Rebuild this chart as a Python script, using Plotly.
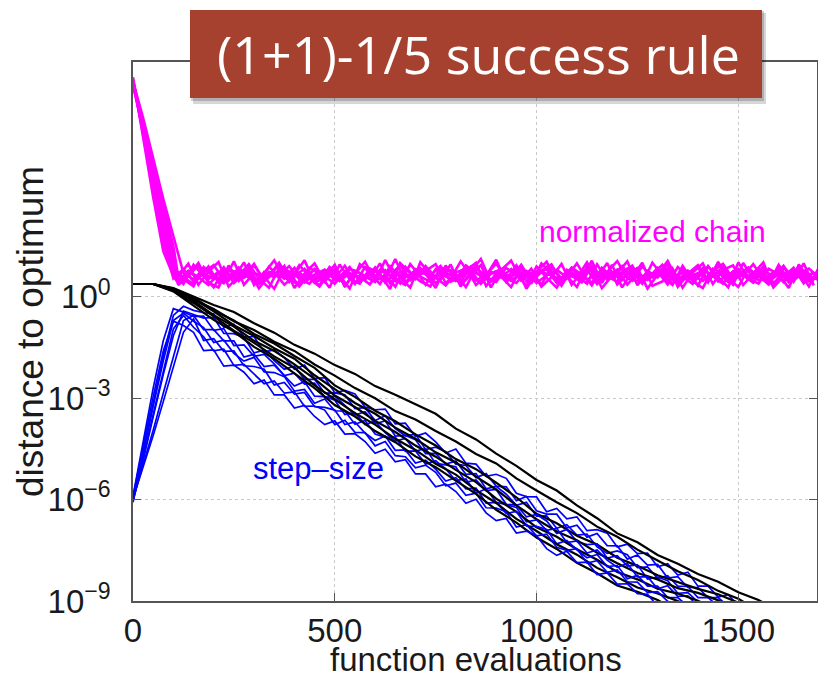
import plotly.graph_objects as go

# ---------------- data (log10 values) ----------------
black_evals = list(range(0, 1601, 50))
blue_evals = list(range(0, 1551, 25))
magenta_evals_a = list(range(0, 1701, 25))
magenta_evals_b = [0, 25, 50, 75, 100] + list(range(112, 1701, 25))

# distance to optimum (black), log10
black_runs = [
    [0.38, 0.38, 0.26, 0.02, -0.24, -0.45, -0.78, -1.06, -1.42, -1.68, -2.02, -2.28, -2.64, -2.90, -3.17, -3.46,
     -3.90, -4.22, -4.64, -5.00, -5.42, -5.73, -6.17, -6.55, -7.00, -7.26, -7.64, -7.90, -8.20, -8.43, -8.74, -8.97, -9.30],
    [0.38, 0.38, 0.24, -0.08, -0.36, -0.72, -0.98, -1.33, -1.60, -2.00, -2.33, -2.70, -3.00, -3.38, -3.63, -3.97,
     -4.28, -4.65, -4.93, -5.37, -5.73, -6.08, -6.40, -6.80, -7.10, -7.48, -7.80, -8.12, -8.38, -8.70, -8.93, -9.30],
    [0.38, 0.38, 0.24, -0.02, -0.40, -0.70, -1.10, -1.38, -1.75, -2.10, -2.62, -2.96, -3.37, -3.68, -4.07, -4.40,
     -4.80, -5.10, -5.50, -5.93, -6.42, -6.70, -7.07, -7.33, -7.72, -7.96, -8.24, -8.43, -8.64, -8.80, -9.05, -9.40],
    [0.38, 0.38, 0.22, -0.06, -0.43, -0.84, -1.16, -1.52, -1.83, -2.32, -2.73, -3.14, -3.46, -3.87, -4.20, -4.60,
     -4.90, -5.32, -5.70, -6.17, -6.58, -6.94, -7.20, -7.57, -7.88, -8.17, -8.36, -8.62, -8.76, -8.98, -9.30],
    [0.38, 0.38, 0.20, -0.12, -0.54, -0.88, -1.30, -1.60, -2.00, -2.43, -2.92, -3.26, -3.67, -4.00, -4.40, -4.73,
     -5.12, -5.48, -5.97, -6.36, -6.82, -7.10, -7.47, -7.78, -8.14, -8.36, -8.64, -8.78, -8.99, -9.30],
    [0.38, 0.38, 0.18, -0.18, -0.58, -1.00, -1.36, -1.76, -2.10, -2.62, -3.03, -3.44, -3.78, -4.20, -4.53, -4.94,
     -5.26, -5.72, -6.10, -6.57, -6.93, -7.32, -7.63, -8.02, -8.30, -8.60, -8.78, -9.00, -9.30],
    [0.38, 0.38, 0.16, -0.25, -0.68, -1.03, -1.48, -1.83, -2.27, -2.70, -3.20, -3.54, -3.97, -4.30, -4.72, -5.04,
     -5.44, -5.83, -6.30, -6.68, -7.12, -7.46, -7.87, -8.18, -8.54, -8.73, -8.97, -9.30],
]

# step-size (blue), log10
blue_runs = [
    [-5.95, -4.55, -3.10, -1.75, -0.55, -0.28, -0.40, -0.47, -0.50, -0.90,
     -0.81, -1.18, -1.18, -1.63, -1.57, -1.80, -2.14, -2.02, -2.42, -2.39,
     -2.84, -2.77, -2.87, -3.26, -3.34, -3.32, -3.76, -3.74, -4.13, -4.03,
     -4.29, -4.62, -4.50, -4.92, -4.95, -5.31, -5.25, -5.37, -5.81, -5.91,
     -5.92, -6.36, -6.26, -6.57, -6.51, -6.92, -6.89, -6.99, -7.40, -7.32,
     -7.60, -7.58, -7.99, -7.90, -8.23, -8.15, -8.56, -8.56, -8.88, -8.81,
     -9.15, -9.20],
    [-6.05, -4.85, -3.55, -2.30, -1.15, -0.42, -0.52, -0.63, -0.61, -1.08,
     -1.09, -1.20, -1.66, -1.58, -1.89, -2.14, -2.05, -2.44, -2.44, -2.85,
     -2.84, -2.90, -3.31, -3.28, -3.66, -3.52, -3.90, -4.11, -4.06, -4.52,
     -4.45, -4.58, -4.95, -4.99, -5.35, -5.23, -5.60, -5.62, -6.03, -5.91,
     -6.33, -6.43, -6.43, -6.84, -6.76, -7.11, -7.00, -7.36, -7.37, -7.76,
     -7.64, -7.94, -7.92, -8.32, -8.28, -8.60, -8.60, -8.90, -8.90, -9.15],
    [-5.90, -4.30, -2.70, -1.30, -0.35, -0.45, -0.58, -0.57, -0.99, -0.94,
     -1.44, -1.42, -1.76, -1.70, -1.98, -2.33, -2.26, -2.58, -2.55, -2.97,
     -2.94, -3.21, -3.50, -3.40, -3.75, -3.67, -4.12, -4.10, -4.23, -4.64,
     -4.63, -4.95, -4.86, -5.25, -5.23, -5.68, -5.61, -5.84, -6.17, -6.08,
     -6.49, -6.48, -6.85, -6.74, -7.05, -7.02, -7.40, -7.59, -7.52, -7.63,
     -8.01, -7.99, -8.33, -8.25, -8.56, -8.57, -8.90, -8.90, -9.15],
    [-6.00, -5.00, -3.95, -2.85, -1.75, -0.70, -0.55, -0.97, -0.97, -1.30,
     -1.30, -1.78, -1.70, -2.06, -2.02, -2.34, -2.64, -2.51, -2.94, -2.95,
     -3.06, -3.48, -3.43, -3.78, -3.68, -4.02, -4.27, -4.19, -4.56, -4.49,
     -4.93, -4.97, -5.03, -5.49, -5.42, -5.73, -5.70, -6.14, -6.16, -6.51,
     -6.44, -6.63, -7.00, -6.88, -7.24, -7.33, -7.31, -7.73, -7.66, -7.97,
     -7.93, -8.35, -8.29, -8.40, -8.77, -8.75, -9.03, -9.10],
    [-6.08, -4.65, -3.25, -1.90, -0.70, -0.48, -0.72, -0.91, -1.35, -1.28,
     -1.67, -1.90, -1.79, -2.22, -2.24, -2.36, -2.79, -2.74, -3.15, -3.02,
     -3.37, -3.38, -3.77, -3.66, -4.06, -4.16, -4.15, -4.57, -4.56, -4.95,
     -4.85, -5.09, -5.44, -5.39, -5.81, -5.68, -6.08, -6.15, -6.23, -6.66,
     -6.60, -6.91, -6.85, -7.27, -7.22, -7.58, -7.49, -7.79, -8.00, -7.89,
     -8.29, -8.28, -8.64, -8.55, -8.86, -8.85, -9.15],
    [-5.97, -5.05, -4.10, -3.10, -2.10, -1.05, -0.65, -1.29, -1.24, -1.61,
     -1.60, -2.04, -2.06, -2.14, -2.61, -2.53, -2.88, -2.83, -3.25, -3.27,
     -3.35, -3.78, -3.70, -4.03, -4.25, -4.12, -4.54, -4.53, -4.92, -4.83,
     -5.10, -5.45, -5.35, -5.68, -5.66, -6.10, -6.08, -6.41, -6.35, -6.78,
     -6.79, -6.88, -7.31, -7.21, -7.49, -7.72, -7.62, -7.98, -7.95, -8.34,
     -8.24, -8.56, -8.56, -8.90, -8.90, -9.15],
    [-6.02, -4.75, -3.45, -2.15, -0.95, -0.55, -0.90, -1.18, -1.60, -1.55,
     -2.03, -2.00, -2.29, -2.57, -2.49, -2.85, -2.81, -3.24, -3.23, -3.35,
     -3.78, -3.65, -4.01, -4.02, -4.41, -4.28, -4.70, -4.73, -5.06, -4.98,
     -5.19, -5.59, -5.51, -5.87, -5.81, -6.24, -6.25, -6.36, -6.81, -6.74,
     -7.07, -7.02, -7.41, -7.50, -7.45, -7.88, -7.81, -8.15, -8.08, -8.43,
     -8.44, -8.75, -8.72, -9.01, -9.15],
    [-5.92, -4.40, -2.95, -1.60, -0.72, -0.85, -1.05, -1.59, -1.57, -2.05,
     -2.02, -2.23, -2.57, -2.46, -2.90, -2.90, -3.29, -3.21, -3.54, -3.78,
     -3.67, -4.06, -4.05, -4.28, -4.63, -4.51, -4.88, -4.82, -5.24, -5.24,
     -5.62, -5.54, -5.76, -6.11, -5.99, -6.39, -6.62, -6.56, -6.99, -6.93,
     -7.07, -7.45, -7.65, -7.53, -7.86, -7.85, -8.22, -8.17, -8.50, -8.49,
     -8.78, -8.80, -9.15],
]

# normalized chain (magenta), log10
magenta_runs = [
    [6.42, 4.85, 3.25, 1.72, 0.55, 0.82, 0.46, 0.71, 0.52, 0.88,
     0.41, 0.66, 0.93, 0.50, 0.72, 0.36, 0.61, 0.83, 0.47, 0.76,
     0.55, 0.92, 0.42, 0.63, 0.77, 0.50, 1.12, 0.45, 0.66, 0.81,
     0.40, 0.71, 0.56, 0.87, 0.35, 0.62, 0.76, 0.51, 0.93, 0.46,
     0.67, 0.82, 0.41, 0.72, 0.57, 1.02, 0.46, 0.61, 0.81, 0.36,
     0.71, 0.52, 0.86, 0.61, 0.41, 0.77, 0.56, 0.91, 0.46, 0.66,
     0.82, 0.51, 0.72, 0.41, 0.86, 0.56, 0.71, 0.46, 0.62],
    [6.30, 5.00, 3.60, 2.20, 1.00, 0.48, 0.75, 0.55, 0.90, 0.42,
     0.68, 0.52, 0.85, 0.38, 0.62, 0.95, 0.48, 0.70, 0.55, 0.30,
     0.72, 0.58, 0.88, 0.45, 0.66, 0.52, 0.80, 0.40, 0.97, 0.60,
     0.44, 0.78, 0.53, 1.05, 0.62, 0.40, 0.74, 0.58, 0.82, 0.48,
     0.70, 0.36, 0.88, 0.55, 0.64, 0.43, 0.92, 0.57, 0.74, 0.50,
     0.83, 0.42, 0.68, 0.95, 0.52, 0.60, 0.38, 0.79, 0.63, 0.88,
     0.47, 0.72, 0.55, 0.90, 0.41, 0.67, 0.80, 0.52, 0.74],
    [6.38, 5.30, 4.10, 2.90, 1.80, 0.70, 0.52, 0.84, 0.60, 0.40,
     0.76, 0.58, 0.98, 0.47, 0.71, 0.55, 0.86, 0.43, 0.66, 0.81,
     0.50, 0.73, 0.38, 0.88, 0.61, 0.79, 0.46, 0.67, 0.52, 0.91,
     0.57, 0.34, 0.72, 0.84, 0.49, 0.65, 0.99, 0.54, 0.41, 0.77,
     0.60, 0.89, 0.47, 0.69, 0.53, 0.81, 0.38, 0.74, 1.06, 0.55,
     0.46, 0.72, 0.58, 0.85, 0.40, 0.69, 0.94, 0.51, 0.73, 0.44,
     0.66, 0.87, 0.49, 0.58, 0.78, 0.43, 0.69, 0.84, 0.57],
    [6.50, 4.70, 2.95, 1.35, 0.62, 0.40, 0.77, 0.58, 0.35, 0.69,
     0.83, 0.50, 0.64, 0.44, 0.89, 0.60, 0.73, 0.31, 0.66, 0.54,
     0.86, 0.47, 0.70, 0.59, 0.37, 0.80, 0.62, 0.95, 0.49, 0.72,
     0.63, 0.91, 0.45, 0.57, 0.78, 0.39, 0.68, 0.82, 0.48, 0.71,
     0.52, 0.77, 0.96, 0.44, 0.63, 0.71, 0.34, 0.86, 0.59, 0.73,
     0.48, 0.90, 0.57, 0.67, 0.39, 0.81, 0.62, 0.47, 0.76, 0.98,
     0.53, 0.64, 0.42, 0.79, 0.61, 0.92, 0.50, 0.70, 0.45],
    [6.25, 4.95, 3.45, 2.05, 0.85, 0.58, 0.38, 0.72, 0.94, 0.50,
     0.61, 0.79, 0.43, 0.70, 1.08, 0.54, 0.66, 0.48, 0.83, 0.60,
     0.39, 0.75, 0.63, 0.51, 0.87, 0.42, 0.69, 0.57, 0.78, 0.36,
     0.82, 0.60, 0.48, 0.93, 0.70, 0.55, 0.44, 0.86, 0.62, 0.73,
     0.41, 0.64, 0.80, 0.58, 0.99, 0.49, 0.72, 0.60, 0.45, 0.84,
     0.66, 0.50, 0.75, 0.37, 0.88, 0.59, 0.70, 0.54, 1.00, 0.47,
     0.74, 0.58, 0.84, 0.45, 0.68, 0.53, 0.90, 0.62, 0.49],
    [6.35, 5.15, 3.85, 2.55, 1.40, 0.45, 0.66, 0.90, 0.53, 0.74,
     0.48, 0.87, 0.57, 0.40, 0.74, 0.63, 0.91, 0.52, 0.39, 0.70,
     0.64, 0.48, 0.83, 0.71, 0.53, 0.99, 0.40, 0.76, 0.60, 0.85,
     0.51, 0.66, 0.79, 0.43, 0.89, 0.61, 0.50, 0.73, 0.58, 0.95,
     0.47, 0.75, 0.62, 0.52, 0.87, 0.66, 0.42, 0.79, 0.55, 0.69,
     0.92, 0.45, 0.63, 0.80, 0.56, 0.71, 0.48, 0.85, 0.60, 0.39,
     0.76, 0.62, 0.97, 0.51, 0.73, 0.44, 0.81, 0.58, 0.70],
    [6.44, 4.80, 3.15, 1.55, 0.72, 0.38, 0.95, 0.60, 0.28, 0.79,
     0.55, 1.02, 0.35, 0.74, 0.58, 0.92, 0.26, 0.69, 0.99, 0.45,
     0.81, 0.33, 0.70, 1.04, 0.48, 0.64, 0.30, 0.89, 0.56, 0.76,
     0.97, 0.41, 0.67, 0.29, 0.85, 0.62, 1.10, 0.44, 0.73, 0.32,
     0.90, 0.57, 0.27, 0.80, 0.63, 0.39, 0.96, 0.51, 0.70, 1.05,
     0.34, 0.77, 0.58, 0.98, 0.30, 0.66, 0.87, 0.43, 1.03, 0.55,
     0.29, 0.84, 0.62, 0.37, 0.95, 0.50, 0.78, 0.31, 0.88],
    [6.33, 5.10, 3.75, 2.40, 1.20, 0.35, 0.60, 1.00, 0.42, 0.28,
     0.93, 0.47, 0.80, 0.25, 0.63, 1.01, 0.54, 0.33, 0.86, 0.68,
     0.27, 0.96, 0.52, 0.39, 0.84, 0.68, 0.23, 1.00, 0.70, 0.46,
     0.31, 0.88, 0.75, 0.37, 0.64, 0.94, 0.28, 0.79, 1.07, 0.50,
     0.83, 0.30, 0.58, 0.97, 0.36, 0.74, 0.88, 0.26, 0.62, 0.91,
     0.57, 1.01, 0.33, 0.46, 0.84, 0.27, 0.72, 0.99, 0.38, 0.80,
     0.93, 0.35, 0.69, 1.02, 0.28, 0.60, 0.86, 0.40, 0.75],
    [6.40, 4.95, 3.40, 1.90, 0.78, 0.52, 0.31, 0.88, 0.64, 0.47,
     1.05, 0.36, 0.71, 0.59, 0.24, 0.83, 0.66, 1.08, 0.42, 0.57,
     0.95, 0.29, 0.77, 0.61, 0.44, 1.09, 0.53, 0.35, 0.82, 0.70,
     0.26, 0.93, 0.48, 0.78, 1.01, 0.32, 0.68, 0.55, 0.87, 0.24,
     0.74, 1.04, 0.45, 0.62, 0.29, 0.91, 0.56, 1.00, 0.37, 0.69,
     0.85, 0.25, 0.64, 1.06, 0.49, 0.76, 0.33, 0.90, 0.60, 0.28,
     1.02, 0.54, 0.39, 0.83, 0.67, 0.26, 0.96, 0.48, 0.63],
    [6.28, 5.20, 4.00, 2.70, 1.50, 0.60, 0.98, 0.36, 0.75, 1.03,
     0.30, 0.62, 0.97, 0.53, 0.27, 0.85, 0.44, 0.94, 0.61, 0.33,
     0.88, 0.62, 0.25, 0.97, 0.71, 0.38, 0.91, 0.58, 0.27, 1.02,
     0.66, 0.50, 0.96, 0.31, 0.74, 1.12, 0.45, 0.60, 0.29, 0.86,
     0.39, 0.99, 0.68, 0.33, 0.85, 0.52, 1.07, 0.41, 0.95, 0.28,
     0.73, 0.39, 1.01, 0.62, 0.35, 0.92, 0.47, 0.26, 0.83, 0.69,
     0.36, 1.00, 0.54, 0.72, 0.30, 0.89, 0.45, 0.99, 0.34],
]

x_tick_vals = [0, 500, 1000, 1500]
x_tick_text = ["0", "500", "1000", "1500"]
y_tick_vals = [1e-9, 1e-6, 1e-3, 1e0]
y_tick_text = ["10<sup>−9</sup>", "10<sup>−6</sup>", "10<sup>−3</sup>", "10<sup>0</sup>"]

title_text = "(1+1)-1/5 success rule"
x_title = "function evaluations"
y_title = "distance to optimum"
label_chain = "normalized chain"
label_step = "step–size"

# ---------------- figure ----------------
W, H = 818, 678
L, R, T, B = 133, 1, 62, 77
PW, PH = W - L - R, H - T - B


def px(xp):
    return (xp - L) / PW


def py(yp):
    return (H - B - yp) / PH


fig = go.Figure()

for k, v in enumerate(magenta_runs):
    grid = magenta_evals_a if k % 2 == 0 else magenta_evals_b
    fig.add_trace(go.Scatter(x=grid[:len(v)], y=[10 ** a for a in v], mode="lines",
                             line=dict(color="#FF00FF", width=2.6), hoverinfo="skip"))
for i in range(len(blue_runs)):
    v = blue_runs[i]
    fig.add_trace(go.Scatter(x=blue_evals[:len(v)], y=[10 ** a for a in v], mode="lines",
                             line=dict(color="#0000FF", width=1.7), hoverinfo="skip"))
    if i < len(black_runs):
        b = black_runs[i]
        fig.add_trace(go.Scatter(x=black_evals[:len(b)], y=[10 ** a for a in b], mode="lines",
                                 line=dict(color="#000000", width=2.2), hoverinfo="skip"))

axis_common = dict(
    automargin=False,
    showline=True, linecolor="#555555", linewidth=1.5, mirror="ticks",
    ticks="inside", ticklen=8, tickcolor="#555555", tickwidth=1,
    showgrid=True, gridcolor="#C8C8C8", gridwidth=1, griddash="dot",
    zeroline=False,
    tickfont=dict(family="Liberation Sans, Arial, sans-serif", size=33, color="#1A1A1A"),
)

fig.update_xaxes(range=[0, 1695], tickmode="array", tickvals=x_tick_vals, ticktext=x_tick_text,
                 ticklabelstandoff=0, **axis_common)
fig.update_yaxes(type="log", range=[-9, 6.95], tickmode="array", tickvals=y_tick_vals, ticktext=y_tick_text,
                 ticklabelstandoff=14, **axis_common)

shapes = [
    dict(type="rect", xref="paper", yref="paper", x0=px(193), x1=px(766), y0=py(104), y1=py(13),
         fillcolor="rgba(0,0,0,0.16)", line=dict(width=0), layer="above"),
    dict(type="rect", xref="paper", yref="paper", x0=px(191), x1=px(764), y0=py(101), y1=py(11),
         fillcolor="rgba(0,0,0,0.18)", line=dict(width=0), layer="above"),
    dict(type="rect", xref="paper", yref="paper", x0=px(190), x1=px(762), y0=py(98), y1=py(10),
         fillcolor="#A6412F", line=dict(width=0), layer="above"),
]

annotations = [
    dict(text=title_text, xref="paper", yref="paper", x=px(478), y=py(53), xanchor="center", yanchor="middle",
         showarrow=False, font=dict(family="Open Sans, Lato, sans-serif", size=52, color="white")),
    dict(text=x_title, xref="paper", yref="paper", x=px(476), y=py(659), xanchor="center", yanchor="middle",
         showarrow=False, font=dict(family="Liberation Sans, Arial, sans-serif", size=33, color="#1A1A1A")),
    dict(text=y_title, xref="paper", yref="paper", x=px(30), y=py(332), xanchor="center", yanchor="middle",
         textangle=-90, showarrow=False,
         font=dict(family="Liberation Sans, Arial, sans-serif", size=37, color="#1A1A1A")),
    dict(text=label_chain, x=1288, y=1.93, xref="x", yref="y", xanchor="center", yanchor="middle",
         showarrow=False, font=dict(family="Liberation Sans, Arial, sans-serif", size=30, color="#FF00FF")),
    dict(text=label_step, x=459, y=-5.07, xref="x", yref="y", xanchor="center", yanchor="middle",
         showarrow=False, font=dict(family="Liberation Sans, Arial, sans-serif", size=31, color="#0000FF")),
]

fig.update_layout(
    width=W, height=H,
    margin=dict(l=L, r=R, t=T, b=B, pad=0),
    paper_bgcolor="white", plot_bgcolor="white",
    showlegend=False,
    shapes=shapes, annotations=annotations,
)

fig.write_html("out.html", config={"displayModeBar": False},
               post_script="document.body.style.margin='0px';document.body.style.overflow='hidden';")
